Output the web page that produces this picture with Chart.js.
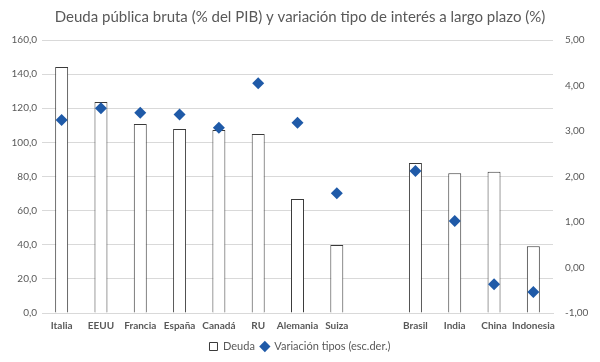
<!DOCTYPE html>
<html>
<head>
<meta charset="utf-8">
<script src="https://cdn.jsdelivr.net/npm/chart.js@4"></script>
<style>
  html, body { margin: 0; padding: 0; background: #fff; }
  #wrap { width: 600px; height: 362px; }
</style>
</head>
<body>
<div id="wrap"><canvas id="debtChart"></canvas></div>
<script>
// countries (empty slot = gap between advanced and emerging economies)
var paises = ['Italia', 'EEUU', 'Francia', 'España', 'Canadá', 'RU', 'Alemania', 'Suiza', '', 'Brasil', 'India', 'China', 'Indonesia'];
// gross public debt, % of GDP (left axis)
var deuda = [144.2, 123.7, 110.8, 107.9, 107.3, 104.9, 66.8, 39.9, null, 87.9, 81.9, 82.8, 39.1];
// change in long-term interest rate, % (right axis)
var variacionTipos = [3.24, 3.50, 3.40, 3.36, 3.07, 4.05, 3.18, 1.63, null, 2.12, 1.02, -0.37, -0.54];

var gris = '#595959';
var fuente = 'Lato, "Open Sans", sans-serif';

document.addEventListener('DOMContentLoaded', function () {
    var ctx = document.getElementById('debtChart').getContext('2d');

    var chart = new Chart(ctx, {
        type: 'bar',
        data: {
            labels: paises,
            datasets: [{
                label: 'Variación tipos (esc.der.)',
                type: 'line',
                data: variacionTipos,
                yAxisID: 'y1',
                showLine: false,
                pointStyle: 'rectRot',
                pointRadius: 6,
                pointHoverRadius: 6,
                backgroundColor: '#1f5aa8',
                borderColor: '#1f5aa8',
                borderWidth: 0,
                order: 0
            }, {
                label: 'Deuda',
                data: deuda,
                yAxisID: 'y',
                backgroundColor: '#ffffff',
                borderColor: '#3a3a3a',
                borderWidth: 1,
                borderSkipped: 'bottom',
                barPercentage: 0.33,
                categoryPercentage: 1,
                pointStyle: 'rect',
                order: 1
            }]
        },
        options: {
            responsive: true,
            maintainAspectRatio: false,
            animation: false,
            layout: { padding: { left: 0, right: 0, top: 0, bottom: 0 } },
            plugins: {
                title: {
                    display: true,
                    text: 'Deuda pública bruta (% del PIB) y variación tipo de interés a largo plazo (%)',
                    color: gris,
                    font: { family: fuente, size: 15, weight: 'normal' },
                    padding: { top: 8, bottom: 14 }
                },
                legend: {
                    position: 'bottom',
                    reverse: true,
                    labels: {
                        usePointStyle: true,
                        boxWidth: 8,
                        boxHeight: 8,
                        color: gris,
                        font: { family: fuente, size: 11 },
                        padding: 6
                    }
                },
                tooltip: { enabled: false }
            },
            scales: {
                x: {
                    grid: { display: false, drawTicks: false },
                    border: { color: '#d9d9d9' },
                    ticks: {
                        color: gris,
                        font: { family: fuente, size: 10, weight: 'bold' },
                        maxRotation: 0,
                        autoSkip: false,
                        padding: 7
                    },
                    afterFit: function (axis) { axis.height = 22; }
                },
                y: {
                    position: 'left',
                    min: 0,
                    max: 160,
                    grid: { color: '#d9d9d9', drawTicks: false },
                    border: { display: false },
                    ticks: {
                        stepSize: 20,
                        color: gris,
                        font: { family: fuente, size: 10 },
                        padding: 5,
                        callback: function (v) { return v.toFixed(1).replace('.', ','); }
                    },
                    afterFit: function (axis) { axis.width = 42; }
                },
                y1: {
                    position: 'right',
                    min: -1,
                    max: 5,
                    grid: { display: false, drawTicks: false },
                    border: { display: false },
                    ticks: {
                        stepSize: 1,
                        color: gris,
                        font: { family: fuente, size: 10 },
                        padding: 12,
                        callback: function (v) { return v.toFixed(2).replace('.', ','); }
                    },
                    afterFit: function (axis) { axis.width = 47; }
                }
            }
        }
    });
});
</script>
</body>
</html>
